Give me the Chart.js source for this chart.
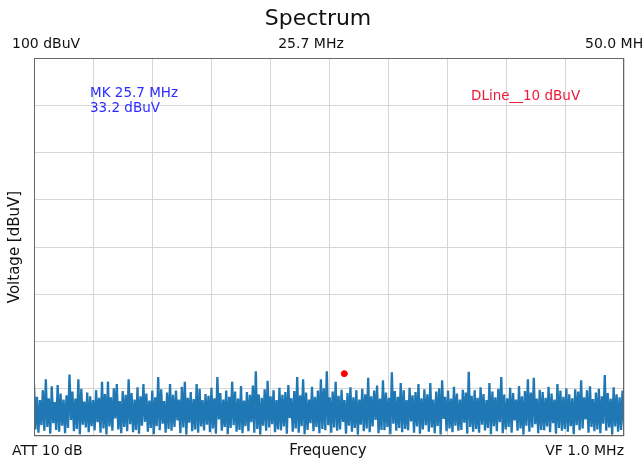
<!DOCTYPE html>
<html>
<head>
<meta charset="utf-8">
<script src="https://cdn.jsdelivr.net/npm/chart.js@4/dist/chart.umd.min.js"></script>
<style>
  html, body { margin: 0; padding: 0; background: #fff; }
  canvas { display: block; }
</style>
</head>
<body>
<canvas id="spectrumChart" width="643" height="463"></canvas>
<script>
// sweep span and display range (dBuV)
const freqStart = 0;
const freqStop = 50;
const levelBottom = 20;
const levelTop = 100;

// spike tops, read left to right off the trace
const peakLevels = [
    31, 28.3, 27.6, 29.7, 32, 28.0, 30.5, 27.2, 30.8, 29.0, 27.7, 28.6, 33, 29.4, 27.9, 32, 30.0, 27.3, 29.2, 28.4,
    27.6, 29.7, 28.1, 31.5, 28.9, 31.5, 28.2, 30.1, 31, 27.4, 29.5, 28.7, 32, 29.1, 27.7, 30.3, 28.4, 31, 29.0, 27.5,
    29.6, 28.2, 32.5, 29.9, 27.4, 29.2, 31, 28.7, 29.6, 27.7, 30.4, 31.5, 28.1, 29.3, 27.8, 31, 30.0, 27.6, 28.9, 28.5,
    30.2, 28.0, 32.5, 29.1, 27.7, 29.6, 28.3, 31.5, 29.4, 27.9, 30.6, 27.5, 29.3, 28.7, 30.7, 33.7, 28.8, 28.1, 29.9, 31.7,
    28.4, 29.7, 27.6, 30.2, 28.7, 29.3, 30.8, 28.0, 29.5, 32.5, 28.6, 32, 29.2, 27.7, 30.4, 28.3, 29.6, 32, 30.1, 33.7,
    28.2, 29.4, 31.5, 28.5, 29.8, 27.6, 29.1, 30.3, 28.2, 29.7, 27.7, 30.0, 28.8, 32.3, 28.4, 29.6, 30.7, 27.9, 31.8, 29.2,
    28.1, 33.5, 29.5, 28.3, 31.2, 29.7, 27.6, 30.2, 28.6, 29.3, 31, 28.0, 29.9, 28.8, 31.2, 27.7, 29.4, 30.1, 31.8, 28.3,
    29.6, 27.9, 30.4, 29.0, 27.7, 29.8, 29.2, 33.6, 28.5, 29.7, 28.1, 30.3, 28.9, 27.6, 31.2, 29.4, 28.2, 30.0, 32.5, 28.8,
    28.0, 30.2, 29.1, 27.7, 30.6, 28.4, 29.5, 32, 29.2, 32.3, 27.9, 29.8, 29.3, 28.1, 30.4, 29.0, 27.7, 31, 29.6, 28.3,
    30.1, 28.8, 28.0, 29.9, 29.4, 31.8, 28.2, 29.7, 30.5, 27.8, 29.2, 30.0, 28.4, 32.9, 29.1, 27.9, 30.3, 28.8, 28.2, 29.6
];

// noise floor dips between the spikes
const floorLevels = [
    21.4, 20.7, 22.3, 21.1, 21.9, 20.5, 22.7, 21.3, 20.9, 22.2, 20.6, 21.7, 23.4, 21.0, 21.5, 20.4, 22.4, 21.8, 20.8, 22.1,
    21.2, 22.9, 20.7, 21.6, 20.3, 22.0, 21.1, 23.7, 21.4, 20.6, 21.9, 21.0, 22.5, 20.8, 21.3, 20.5, 22.2, 23.0, 20.9, 21.7,
    20.4, 22.1, 21.2, 22.6, 20.7, 21.5, 21.1, 21.9, 23.3, 20.6, 21.8, 20.3, 22.8, 21.0, 21.4, 20.7, 22.0, 21.2, 22.4, 20.8,
    21.6, 20.5, 23.5, 21.1, 21.9, 20.4, 21.7, 22.3, 20.9, 21.3, 20.6, 22.1, 21.0, 22.9, 20.7, 21.5, 20.3, 22.2, 21.1, 21.8,
    22.5, 20.8, 21.4, 21.2, 22.0, 20.5, 23.8, 20.9, 21.6, 20.7, 22.1, 20.4, 21.3, 22.7, 21.0, 21.9, 20.6, 21.5, 21.2, 22.3,
    20.7, 21.8, 21.1, 21.4, 23.0, 20.5, 22.2, 20.9, 21.7, 20.3, 22.4, 21.0, 21.6, 20.8, 22.0, 23.4, 20.6, 21.3, 21.2, 21.9,
    20.4, 22.6, 21.1, 21.7, 20.8, 21.5, 21.2, 23.1, 20.7, 22.0, 20.5, 21.4, 22.3, 20.9, 21.8, 20.6, 22.1, 20.3, 23.6, 21.0,
    21.6, 20.8, 22.2, 21.1, 21.3, 22.8, 20.5, 21.9, 20.9, 21.5, 20.7, 22.4, 21.2, 21.7, 20.4, 22.1, 21.0, 22.9, 20.6, 21.4,
    21.9, 20.7, 23.3, 21.1, 21.6, 20.3, 22.2, 20.9, 21.8, 22.5, 20.6, 21.3, 21.2, 22.0, 20.8, 22.7, 20.5, 21.7, 21.1, 21.5,
    20.9, 22.1, 20.4, 22.3, 21.2, 21.6, 23.5, 20.7, 21.9, 21.0, 21.4, 20.6, 22.6, 21.1, 21.8, 20.3, 22.0, 20.9, 21.3, 22.2
];

// marker (placed where the dot sits on the sweep)
const markerFreq = 26.3;
const markerLevel = 33.2;

const headerLeft = '100 dBuV';
const headerCenter = '25.7 MHz';
const headerRight = '50.0 MHz';
const footerLeft = 'ATT 10 dB';
const footerCenter = 'Frequency';
const footerRight = 'VF 1.0 MHz';
const markerText = ['MK 25.7 MHz', '33.2 dBuV'];
const dlineText = 'DLine__10 dBuV';

// interleave spike tops and floor dips into one sweep trace
const sweep = [];
const nPts = peakLevels.length * 2;
peakLevels.forEach((p, i) => {
    sweep.push({ x: freqStart + (2 * i) * (freqStop - freqStart) / (nPts - 1), y: p });
    sweep.push({ x: freqStart + (2 * i + 1) * (freqStop - freqStart) / (nPts - 1), y: floorLevels[i] });
});

const FONT = '"DejaVu Sans", sans-serif';

const labelsPlugin = {
    id: 'spectrumLabels',
    afterDraw(chart) {
        const { ctx, chartArea: a } = chart;
        ctx.save();
        ctx.strokeStyle = '#666';
        ctx.lineWidth = 1;
        ctx.strokeRect(a.left + 0.5, a.top + 0.5, a.right - a.left - 1, a.bottom - a.top - 1);

        ctx.fillStyle = '#111';
        ctx.textBaseline = 'middle';
        ctx.font = '22px ' + FONT;
        ctx.textAlign = 'center';
        ctx.fillText('Spectrum', 318, 19);

        ctx.font = '14px ' + FONT;
        ctx.textAlign = 'left';
        ctx.fillText(headerLeft, 12, 44);
        ctx.fillText(headerRight, 585, 44);
        ctx.textAlign = 'center';
        ctx.fillText(headerCenter, 311, 44);

        ctx.textAlign = 'left';
        ctx.fillText(footerLeft, 12, 451);
        ctx.textAlign = 'right';
        ctx.fillText(footerRight, 624, 451);

        ctx.font = '15px ' + FONT;
        ctx.textAlign = 'center';
        ctx.fillText(footerCenter, 328, 451);

        ctx.save();
        ctx.translate(15, 247);
        ctx.rotate(-Math.PI / 2);
        ctx.textAlign = 'center';
        ctx.fillText('Voltage [dBuV]', 0, 0);
        ctx.restore();

        ctx.font = '13.5px ' + FONT;
        ctx.textAlign = 'left';
        ctx.fillStyle = '#2b2bff';
        ctx.fillText(markerText[0], 90, 93);
        ctx.fillText(markerText[1], 90, 108);
        ctx.fillStyle = '#f01838';
        ctx.fillText(dlineText, 471, 96);
        ctx.restore();
    }
};

new Chart(document.getElementById('spectrumChart').getContext('2d'), {
    type: 'line',
    data: {
        datasets: [
            {
                data: sweep,
                borderColor: '#1f77b4',
                borderWidth: 2.3,
                pointRadius: 0,
                tension: 0,
                fill: false
            },
            {
                type: 'scatter',
                data: [{ x: markerFreq, y: markerLevel }],
                backgroundColor: '#ff0000',
                borderColor: '#ff0000',
                pointRadius: 3
            }
        ]
    },
    options: {
        responsive: false,
        animation: false,
        layout: { padding: { left: 34, right: 19, top: 58, bottom: 27 } },
        plugins: { legend: { display: false }, tooltip: { enabled: false } },
        scales: {
            x: {
                type: 'linear', min: freqStart, max: freqStop,
                ticks: { display: false, stepSize: 5 },
                grid: { color: '#d6d6d6', drawTicks: false },
                border: { display: false }
            },
            y: {
                min: levelBottom, max: levelTop,
                ticks: { display: false, stepSize: 10 },
                grid: { color: '#d6d6d6', drawTicks: false },
                border: { display: false }
            }
        }
    },
    plugins: [labelsPlugin]
});
</script>
</body>
</html>
